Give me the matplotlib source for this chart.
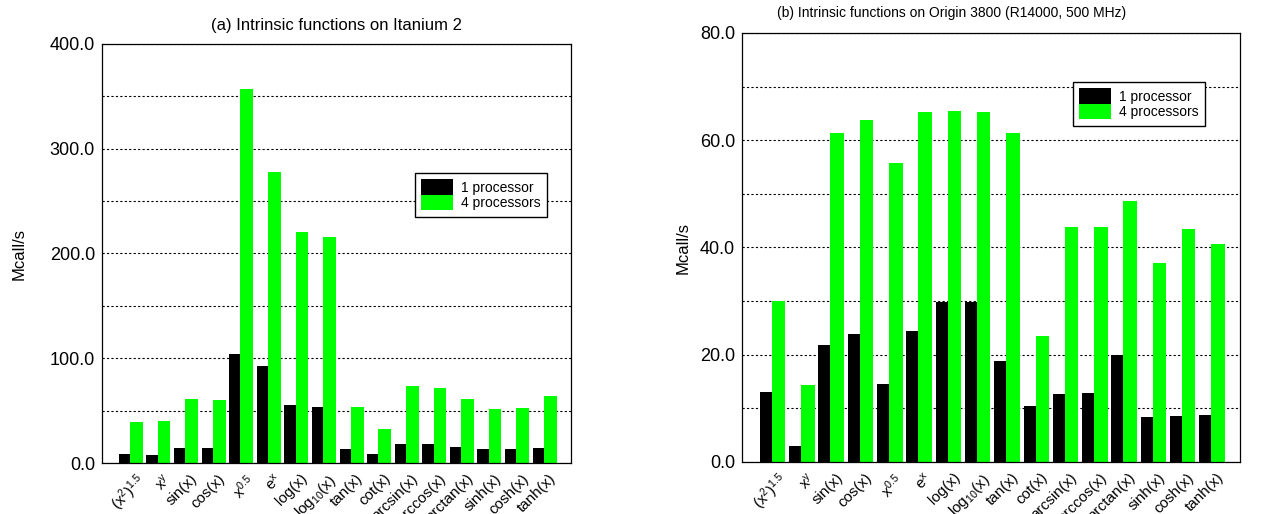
import numpy as np
import matplotlib.pyplot as plt
from matplotlib.ticker import MultipleLocator

plt.rcParams['font.family'] = ['Liberation Sans', 'DejaVu Sans']
plt.rcParams['mathtext.default'] = 'regular'

labels = [r'$(x^2)^{1.5}$', r'$x^y$', 'sin(x)', 'cos(x)', r'$x^{0.5}$', r'$e^x$',
          'log(x)', r'$log_{10}(x)$', 'tan(x)', 'cot(x)', 'arcsin(x)', 'arccos(x)',
          'arctan(x)', 'sinh(x)', 'cosh(x)', 'tanh(x)']

# Itanium 2
ita_1p = [8.3, 8.0, 14.0, 14.0, 104.1, 92.9, 55.4, 53.5, 13.0, 8.9, 18.1, 18.1, 15.3, 13.7, 13.7, 14.3]
ita_4p = [39.2, 40.1, 61.4, 60.5, 356.8, 278.0, 220.4, 215.7, 53.5, 32.5, 73.8, 71.3, 61.4, 51.6, 52.2, 63.7]

# Origin 3800
ori_1p = [13.0, 3.0, 21.8, 23.9, 14.5, 24.4, 29.9, 29.8, 18.8, 10.5, 12.7, 12.9, 20.0, 8.4, 8.6, 8.8]
ori_4p = [30.0, 14.35, 61.4, 63.8, 55.8, 65.2, 65.4, 65.2, 61.4, 23.5, 43.9, 43.8, 48.6, 37.2, 43.5, 40.6]

W, H = 1261, 514
fig = plt.figure(figsize=(W / 100, H / 100), dpi=100)

ax1 = fig.add_axes([102 / W, 1 - 463 / H, (571 - 102) / W, (463 - 44) / H])
ax2 = fig.add_axes([742 / W, 1 - 462 / H, (1240 - 742) / W, (462 - 33) / H])

x = np.arange(len(labels))


def panel(ax, v1, v4, ymax, major, minor, legend_pos):
    ax.bar(x - 0.185, v1, width=0.41, color='black', label='1 processor', zorder=2)
    ax.bar(x + 0.25, v4, width=0.46, color='#00ff00', label='4 processors', zorder=2)
    ax.set_xlim(-1, 16)
    ax.set_ylim(0, ymax)
    ax.yaxis.set_minor_locator(MultipleLocator(minor))
    ticks = np.arange(0, ymax + 0.1, major)
    ax.set_yticks(ticks)
    ax.set_yticklabels(['%.1f' % t for t in ticks], fontsize=13)
    ax.grid(axis='y', which='both', color='black', linestyle=(0, (2, 2)), linewidth=0.8, zorder=0)
    ax.set_axisbelow(True)
    ax.tick_params(axis='y', which='both', length=0, pad=5)
    ax.set_xticks(x + 0.2)
    ax.set_xticklabels(labels, rotation=45, ha='right', rotation_mode='anchor', fontsize=11)
    ax.tick_params(axis='x', length=0, pad=6)
    for s in ax.spines.values():
        s.set_linewidth(0.9)
    ax.set_ylabel('Mcall/s', fontsize=12)
    leg = ax.legend(loc='upper left', bbox_to_anchor=legend_pos, fontsize=10,
                    frameon=True, fancybox=False, edgecolor='black', framealpha=1,
                    handlelength=2.3, handleheight=1.35, labelspacing=0.0,
                    borderpad=0.45, handletextpad=0.55, borderaxespad=0)
    leg.get_frame().set_linewidth(1.0)


panel(ax1, ita_1p, ita_4p, 400, 100, 50, (0.667, 0.692))
panel(ax2, ori_1p, ori_4p, 80, 20, 10, (0.665, 0.886))

ax1.yaxis.set_label_coords(-0.16, 0.5)
ax2.yaxis.set_label_coords(-0.104, 0.5)

ax1.set_title('(a) Intrinsic functions on Itanium 2', fontsize=12, pad=10)
ax2.text(0.42, 1.03, '(b) Intrinsic functions on Origin 3800 (R14000, 500 MHz)',
         transform=ax2.transAxes, ha='center', va='bottom', fontsize=10)

fig.savefig('out.png', dpi=100)
